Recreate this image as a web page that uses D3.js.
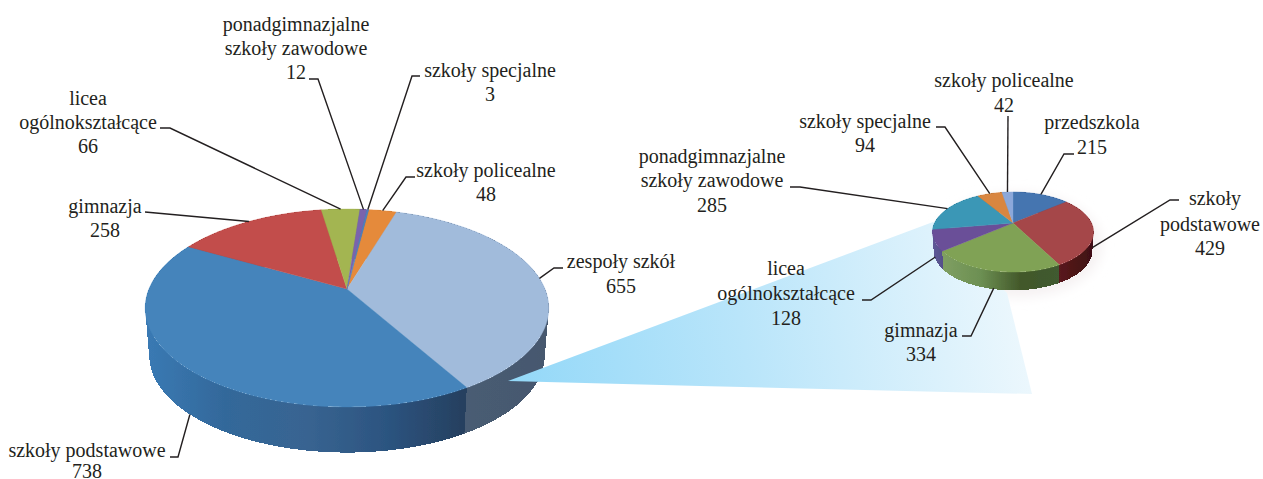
<!DOCTYPE html>
<html><head><meta charset="utf-8">
<script src="https://cdn.jsdelivr.net/npm/d3@7/dist/d3.min.js"></script>
<style>html,body{margin:0;padding:0;background:#fff}svg{display:block}text{font-family:"Liberation Serif",serif;font-size:20px;fill:#231f20}</style>
</head><body><svg id="c" width="1263" height="479"></svg>
<script>
// ---- data: main pie
const mainCategories = ["szkoły policealne","zespoły szkół","szkoły podstawowe","gimnazja","licea ogólnokształcące","ponadgimnazjalne szkoły zawodowe","szkoły specjalne"];
const mainValues = [48,655,738,258,66,12,3];
const mainColors = ["#e58a3a","#a1bbdb","#4484bb","#c24e4b","#a3b551","#7a64ad","#4f81bd"];
const mainSideStops = [["#b96c2a"],["#4a5f78","#46586e"],["#3a7ab4","#33689a","#386491","#2c5480","#263f5e"],["#8f3533"],["#7c8a3a"],["#5b4a85"],["#3a6090"]];
// ---- data: detail pie
const subCategories = ["przedszkola","szkoły podstawowe","gimnazja","licea ogólnokształcące","ponadgimnazjalne szkoły zawodowe","szkoły specjalne","szkoły policealne"];
const subValues = [215,429,334,128,285,94,42];
const subColors = ["#4474b0","#a5474a","#80a254","#6a4f98","#3b97b6","#d98640","#8ca8da"];
const subSideStops = [["#2f5080"],["#5a1a1c","#3e1012"],["#7f9f62","#6c8f52","#43582a","#3f5a30"],["#5f5a98","#554f8a"],["#2a6d85"],["#a06028"],["#6580a8"]];

// ---- label layout
const mainLabels = [
 {i:5,x:296,lines:["ponadgimnazjalne","szkoły zawodowe","12"],ys:[31,55,79],elbow:[[309,79],[318,79]]},
 {i:6,x:490,lines:["szkoły specjalne","3"],ys:[77,101],elbow:[[420,76],[412,76]]},
 {i:0,x:486,lines:["szkoły policealne","48"],ys:[177,201],elbow:[[415,177],[406,177]]},
 {i:1,x:621,lines:["zespoły szkół","655"],ys:[268,293],elbow:[[563,268],[554,268]]},
 {i:4,x:88,lines:["licea","ogólnokształcące","66"],ys:[105,129,153],elbow:[[160,128],[170,128]]},
 {i:3,x:105,lines:["gimnazja","258"],ys:[213,237],elbow:[[145,212]]},
 {i:2,x:87,lines:["szkoły podstawowe","738"],ys:[457,478],elbow:[[170,457],[178,457]]}
];
const subLabels = [
 {i:6,x:1004,lines:["szkoły policealne","42"],ys:[87,112],elbow:[[1008,116]]},
 {i:0,x:1092,lines:["przedszkola","215"],ys:[129,154],elbow:[[1074,154],[1064,154]]},
 {i:5,x:865,lines:["szkoły specjalne","94"],ys:[128,152],elbow:[[936,127],[945,127]]},
 {i:4,x:712,lines:["ponadgimnazjalne","szkoły zawodowe","285"],ys:[163,187,212],elbow:[[790,187],[800,187]]},
 {i:1,x:1210,lines:["szkoły","podstawowe","429"],ys:[205,231,255],dx:[5,0,0],elbow:[[1179,200],[1170,200]]},
 {i:3,x:786,lines:["licea","ogólnokształcące","128"],ys:[275,300,325],elbow:[[862,300],[871,300]]},
 {i:2,x:921,lines:["gimnazja","334"],ys:[337,361],elbow:[[962,336],[971,336]]}
];

const svg = d3.select("#c");
const defs = svg.append("defs");
defs.append("filter").attr("id","soft").append("feGaussianBlur").attr("stdDeviation",0.6);
defs.append("filter").attr("id","glow").attr("x","-20%").attr("y","-20%").attr("width","140%").attr("height","140%").append("feGaussianBlur").attr("stdDeviation",6);
const fg = defs.append("linearGradient").attr("id","funnel").attr("gradientUnits","userSpaceOnUse")
  .attr("x1",508).attr("y1",381).attr("x2",1032).attr("y2",300);
fg.append("stop").attr("offset",0).attr("stop-color","#93d8f8");
fg.append("stop").attr("offset",0.45).attr("stop-color","#b9e5fa");
fg.append("stop").attr("offset",1).attr("stop-color","#eef8fd");

function projector(g){
  return function(theta, scale=1, dz=0){
    const u=Math.sin(theta), v=-Math.cos(theta), w=1+g.k*v;
    return [g.cx+scale*g.A*u/w, g.cy+dz+scale*g.B*v/w];
  };
}
const lineGen = d3.line();
function drawPie(id, g, values, colors, sideStops, labels){
  const P = projector(g);
  const arcs = d3.pie().sort(null).startAngle(g.start).endAngle(g.start+2*Math.PI)(values);
  const root = svg.append("g").attr("id",id);
  const sideG = root.append("g").attr("filter","url(#soft)").attr("shape-rendering","crispEdges");
  const depthKey = a=>-Math.cos((a.startAngle+a.endAngle)/2);
  arcs.map((a,i)=>i).sort((p,q)=>depthKey(arcs[p])-depthKey(arcs[q])).forEach(i=>{
    const a=arcs[i], n=Math.max(2,Math.ceil((a.endAngle-a.startAngle)*60));
    const th=d3.range(n+1).map(t=>a.startAngle+(a.endAngle-a.startAngle)*t/n);
    const top=th.map(t=>P(t)), bot=th.map(t=>P(t,g.bs,g.depth));
    const xs=top.concat(bot).map(p=>p[0]);
    const gid=id+"-s"+i, st=sideStops[i];
    const lg=defs.append("linearGradient").attr("id",gid).attr("gradientUnits","userSpaceOnUse")
      .attr("x1",d3.min(xs)).attr("x2",d3.max(xs)).attr("y1",0).attr("y2",0);
    st.forEach((c,j)=>lg.append("stop").attr("offset",st.length>1?j/(st.length-1):0).attr("stop-color",c));
    d3.range(n).forEach(j=>{
      sideG.append("path").attr("d",lineGen([top[j],top[j+1],bot[j+1],bot[j]])+"Z")
        .attr("fill",`url(#${gid})`);
    });
  });
  const topG = root.append("g").attr("filter","url(#soft)");
  arcs.forEach((a,i)=>{
    const n=Math.max(2,Math.ceil((a.endAngle-a.startAngle)*60));
    const pts=[[g.cx,g.cy]].concat(d3.range(n+1).map(t=>P(a.startAngle+(a.endAngle-a.startAngle)*t/n)));
    topG.append("path").attr("d",lineGen(pts)+"Z").attr("fill",colors[i]).attr("stroke",colors[i]).attr("stroke-width",0.4);
  });
  const lab = root.append("g");
  labels.forEach(l=>{
    const a=arcs[l.i], mid=(a.startAngle+a.endAngle)/2, dz=g.anchor[l.i]||0;
    const edge = dz?P(mid,g.bs,dz):P(mid);
    lab.append("path").attr("d",lineGen(l.elbow.concat([edge]))).attr("fill","none").attr("stroke","#231f20").attr("stroke-width",1.4);
    l.lines.forEach((t,j)=>lab.append("text").attr("x",l.x+(l.dx?l.dx[j]:0)).attr("y",l.ys[j]).attr("text-anchor","middle").text(t));
  });
}

svg.append("ellipse").attr("cx",1018).attr("cy",245).attr("rx",84).attr("ry",52).attr("fill","#f5f1f2").attr("filter","url(#glow)");

const mainGeo = {cx:347,cy:289,A:198,B:95.3,k:-0.192,start:7.5*Math.PI/180,depth:48,bs:0.98,anchor:{2:48}};
const subGeo  = {cx:1013,cy:223,A:78.5,B:38,k:-0.225,start:0,depth:19,bs:0.985,anchor:{1:17,2:18,3:17}};

drawPie("main",mainGeo,mainValues,mainColors,mainSideStops,mainLabels);
svg.append("path").attr("d",lineGen([[508,381],[933,222],[1007,293],[1032,394],[700,386]])+"Z").attr("fill","url(#funnel)");
drawPie("sub",subGeo,subValues,subColors,subSideStops,subLabels);
</script></body></html>
